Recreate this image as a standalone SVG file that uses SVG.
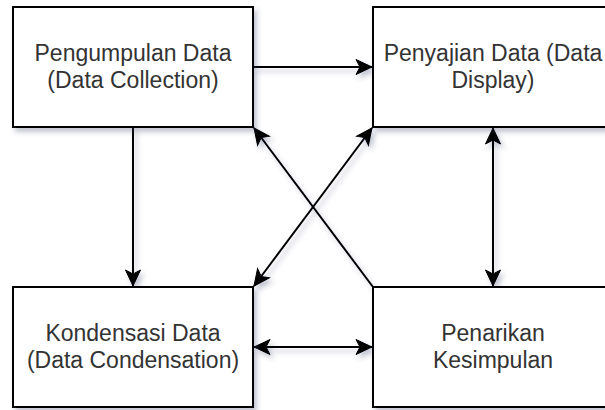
<svg xmlns="http://www.w3.org/2000/svg" width="605" height="410" viewBox="0 0 605 410">
<style>
.box{fill:#fff;stroke:#000;stroke-width:2;filter:url(#sh)}
.lbl{font-family:"Liberation Sans",Arial,sans-serif;font-size:23px;fill:#333;text-anchor:middle}
.edge{fill:none;stroke:#000;stroke-width:2}
</style>
<defs>
<filter id="sh" x="-10%" y="-10%" width="130%" height="130%">
<feDropShadow dx="3" dy="4" stdDeviation="2.5" flood-color="#3a3f6a" flood-opacity="0.3"/>
</filter>
<marker id="ar" markerUnits="userSpaceOnUse" viewBox="-17 -9 18 18" refX="0" refY="0" markerWidth="18" markerHeight="18" orient="auto-start-reverse">
<path d="M0,0 L-16,-7.5 L-12,0 L-16,7.5 Z" fill="#000" stroke="#000" stroke-width="1"/>
</marker>
</defs>
<rect width="605" height="410" fill="#fff"/>
<g id="connectors" filter="url(#sh)">
<path class="edge" d="M253,67 L372,67" marker-end="url(#ar)"/>
<path class="edge" d="M133,127 L133,286" marker-end="url(#ar)"/>
<path class="edge" d="M254,347 L372,347" marker-start="url(#ar)" marker-end="url(#ar)"/>
<path class="edge" d="M493,128 L493,286" marker-start="url(#ar)" marker-end="url(#ar)"/>
<path class="edge" d="M373,287 L254,128" marker-end="url(#ar)"/>
<path class="edge" d="M372,128 L254,286" marker-start="url(#ar)" marker-end="url(#ar)"/>
</g>
<g id="pengumpulan">
<rect class="box" x="13" y="7" width="240" height="120"/>
<text class="lbl" x="133" y="61">Pengumpulan Data</text>
<text class="lbl" x="133" y="88">(Data Collection)</text>
</g>
<g id="penyajian">
<rect class="box" x="373" y="7" width="240" height="120"/>
<text class="lbl" x="493" y="61">Penyajian Data (Data</text>
<text class="lbl" x="493" y="88">Display)</text>
</g>
<g id="kondensasi">
<rect class="box" x="13" y="287" width="240" height="120"/>
<text class="lbl" x="133" y="341">Kondensasi Data</text>
<text class="lbl" x="133" y="368">(Data Condensation)</text>
</g>
<g id="penarikan">
<rect class="box" x="373" y="287" width="240" height="120"/>
<text class="lbl" x="493" y="341">Penarikan</text>
<text class="lbl" x="493" y="368">Kesimpulan</text>
</g>
</svg>
